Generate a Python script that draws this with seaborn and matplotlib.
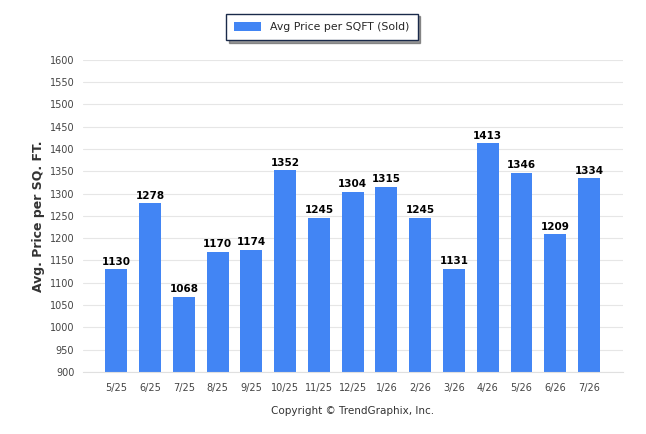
import matplotlib
matplotlib.use('Agg')
import matplotlib.pyplot as plt
import seaborn as sns
import pandas as pd

months = ['5/25', '6/25', '7/25', '8/25', '9/25', '10/25', '11/25', '12/25',
          '1/26', '2/26', '3/26', '4/26', '5/26', '6/26', '7/26']
price_sqft = [1130, 1278, 1068, 1170, 1174, 1352, 1245, 1304,
              1315, 1245, 1131, 1413, 1346, 1209, 1334]
yticks = list(range(900, 1601, 50))

df = pd.DataFrame({'month': months, 'price': price_sqft})

sns.set_style('white')
plt.rcParams['font.family'] = ['DejaVu Sans']

fig = plt.figure(figsize=(6.46, 4.34), dpi=100)
ax = fig.add_axes([0.128, 0.143, 0.836, 0.719])

bar_color = '#4285f4'
sns.barplot(data=df, x='month', y='price', color=bar_color, width=0.65,
            saturation=1, linewidth=0, ax=ax, label='Avg Price per SQFT (Sold)')

ax.set_ylim(900, 1600)
ax.set_xlim(-1, len(months))
ax.set_yticks(yticks)
ax.set_yticklabels([str(t) for t in yticks], fontsize=7, color='#444444')
ax.tick_params(axis='x', labelsize=7, labelcolor='#444444', length=0, pad=8)
ax.tick_params(axis='y', length=0, pad=6)
ax.yaxis.grid(True, color='#e6e6e6', linewidth=0.8)
ax.set_axisbelow(True)
for s in ['top', 'right', 'left']:
    ax.spines[s].set_visible(False)
ax.spines['bottom'].set_color('#e0e0e0')

for i, v in enumerate(price_sqft):
    ax.text(i, v + 6, str(v), ha='center', va='bottom', fontsize=7.5,
            fontweight='bold', color='black')

ax.set_xlabel('Copyright \u00a9 TrendGraphix, Inc.', fontsize=7.5, color='#333333', labelpad=9)
ax.set_ylabel('Avg. Price per SQ. FT.', fontsize=9, fontweight='bold', color='#333333', labelpad=3)

leg = ax.legend(loc='center', bbox_to_anchor=(0.443, 1.106), fontsize=7.8,
                frameon=True, fancybox=False, shadow={'color': '#555555', 'alpha': 0.6},
                handlelength=2.5, handleheight=0.9, borderpad=0.75)
leg.get_frame().set_edgecolor('#1a2a4a')
leg.get_frame().set_linewidth(1.0)

plt.savefig('out.png', dpi=100)
